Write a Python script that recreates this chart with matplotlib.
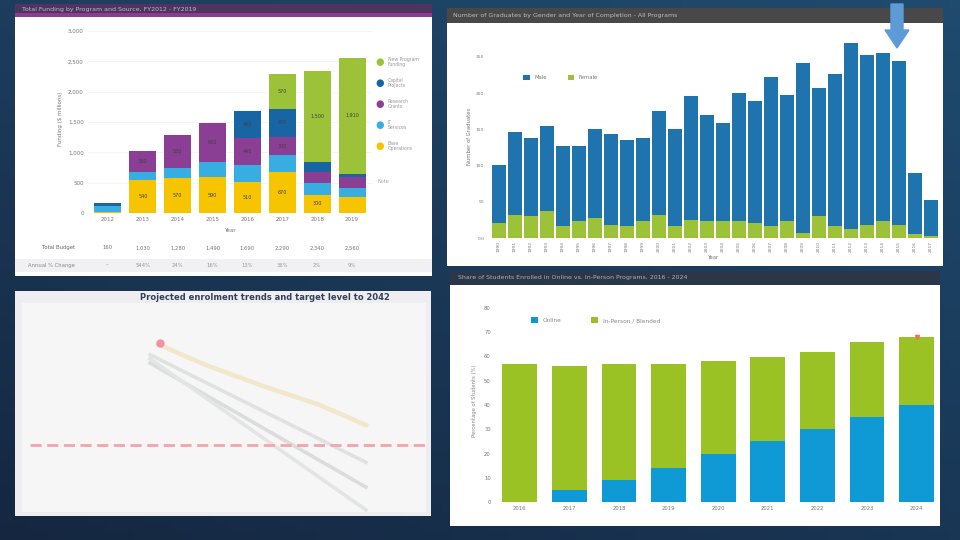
import numpy as np
import matplotlib
matplotlib.use("Agg")
import matplotlib.pyplot as plt
from matplotlib.patches import Rectangle, FancyArrow
from matplotlib import transforms

W, H = 960, 540

# ---- datos panel superior izquierdo (barras apiladas por programa) ----
tl_years = ["2012", "2013", "2014", "2015", "2016", "2017", "2018", "2019"]
tl_yellow = [20, 540, 570, 590, 510, 670, 300, 270]
tl_cyan = [100, 130, 180, 250, 280, 280, 190, 140]
tl_purple = [0, 360, 530, 650, 440, 300, 180, 180]
tl_blue = [40, 0, 0, 0, 460, 470, 170, 60]
tl_green = [0, 0, 0, 0, 0, 570, 1500, 1910]
tl_names = ["New Program\nFunding", "Capital\nProjects", "Research\nGrants", "IT\nServices", "Base\nOperations"]
tl_row1 = ["160", "1,030", "1,280", "1,490", "1,690", "2,290", "2,340", "2,560"]
tl_row2 = ["--", "544%", "24%", "16%", "13%", "36%", "2%", "9%"]

# ---- datos panel superior derecho ----
tr_years = [str(y) for y in range(1990, 2018)]
tr_blue = [80, 115, 108, 118, 111, 104, 122, 125, 120, 115, 143, 134, 171, 147,
           136, 177, 168, 207, 175, 235, 177, 210, 257, 235, 233, 226, 85, 50]
tr_green = [21, 32, 30, 37, 16, 23, 28, 18, 16, 23, 32, 16, 25, 23,
            23, 23, 21, 16, 23, 7, 30, 16, 12, 18, 23, 18, 5, 3]

# ---- datos panel inferior izquierdo (proyecciones) ----
bl_orange_x = [2016, 2022, 2029, 2036, 2042]
bl_orange_y = [81, 71, 61, 52, 42]
bl_gray_x = [2015, 2042]
bl_gray1 = [76, 24]
bl_gray2 = [72, 12]
bl_gray3 = [74, 1]
bl_target = 32.4
bl_point = (2016.3, 81.5)

# ---- datos panel inferior derecho ----
br_years = ["2016", "2017", "2018", "2019", "2020", "2021", "2022", "2023", "2024"]
br_blue = [0, 5, 9, 14, 20, 25, 30, 35, 40]
br_green = [57, 51, 48, 43, 38, 35, 32, 31, 28]

c_yellow, c_cyan, c_purple = "#f6c500", "#38ade2", "#8b3f94"
c_dblue, c_green = "#1766a3", "#9cc23a"


def box(x0, y0, x1, y1):
    return [x0 / W, 1 - y1 / H, (x1 - x0) / W, (y1 - y0) / H]


def panel(x0, y0, x1, y1, color, z=-5):
    fig.add_artist(Rectangle((x0 / W, 1 - y1 / H), (x1 - x0) / W, (y1 - y0) / H,
                             transform=fig.transFigure, facecolor=color,
                             edgecolor="none", zorder=z))


fig = plt.figure(figsize=(9.6, 5.4), dpi=100)

# fondo azul oscuro con degradado
bg = fig.add_axes([0, 0, 1, 1], zorder=-10)
yy, xx = np.mgrid[0:1:60j, 0:1:100j]
c_tl = np.array([0x1d, 0x3d, 0x5e]) / 255
c_tr = np.array([0x1f, 0x4b, 0x6e]) / 255
c_bl = np.array([0x15, 0x27, 0x40]) / 255
c_br = np.array([0x19, 0x36, 0x55]) / 255
grad = ((1 - xx)[..., None] * (1 - yy)[..., None] * c_tl + xx[..., None] * (1 - yy)[..., None] * c_tr
        + (1 - xx)[..., None] * yy[..., None] * c_bl + xx[..., None] * yy[..., None] * c_br)
bg.imshow(grad, extent=[0, 1, 0, 1], aspect="auto", origin="upper")
bg.axis("off")

# ================= panel superior izquierdo =================
panel(15, 17, 432, 276, "#ffffff", -5)
panel(15, 259, 432, 272, "#f1f1f3", -4.9)
panel(15, 4, 432, 17, "#4d3560", -4.8)
panel(15, 13, 432, 17, "#8c3b90", -4.7)
fig.text(22 / W, 1 - 10 / H, "Total Funding by Program and Source, FY2012 - FY2019",
         fontsize=4.5, color="#c0b8c8", va="center")

ax1 = fig.add_axes(box(88, 25, 372, 213))
ax1.set_facecolor("none")
x1 = np.arange(len(tl_years))
bottom = np.zeros(len(tl_years))
segs = [(tl_yellow, c_yellow), (tl_cyan, c_cyan), (tl_purple, c_purple),
        (tl_blue, c_dblue), (tl_green, c_green)]
for vals, col in segs:
    ax1.bar(x1, vals, 0.78, bottom=bottom, color=col, zorder=2)
    for i, v in enumerate(vals):
        if v >= 300:
            ax1.text(x1[i], bottom[i] + v / 2, "{:,}".format(v), ha="center", va="center",
                     fontsize=3.5, color="#404040", zorder=3)
    bottom = bottom + np.array(vals)
ax1.set_xlim(-0.57, 7.57)
ax1.set_ylim(0, 3100)
ax1.set_yticks(range(0, 3001, 500))
ax1.set_yticklabels(["{:,}".format(v) for v in range(0, 3001, 500)])
ax1.set_xticks(x1)
ax1.set_xticklabels(tl_years)
ax1.tick_params(labelsize=4, colors="#777777", length=0, pad=3)
ax1.grid(axis="y", color="#f0f0f0", lw=0.5, zorder=0)
for s in ax1.spines.values():
    s.set_visible(False)
ax1.set_ylabel("Funding ($ millions)", fontsize=4, color="#777777", labelpad=4)
ax1.set_xlabel("Year", fontsize=4, color="#777777", labelpad=4)
tr1 = transforms.blended_transform_factory(ax1.transData, ax1.transAxes)
for i in range(len(tl_years)):
    ax1.text(x1[i], -0.186, tl_row1[i], transform=tr1, ha="center", va="center", fontsize=3.8, color="#777777")
    ax1.text(x1[i], -0.277, tl_row2[i], transform=tr1, ha="center", va="center", fontsize=3.8, color="#999999")
ax1.text(-0.95, -0.186, "Total Budget", transform=tr1, ha="right", va="center", fontsize=3.8, color="#666666")
ax1.text(-0.95, -0.277, "Annual % Change", transform=tr1, ha="right", va="center", fontsize=3.8, color="#888888")

# leyenda
for k, (name, col) in enumerate(zip(tl_names, [c_green, c_dblue, c_purple, c_cyan, c_yellow])):
    ypx = 62 + k * 21
    fig.text(380 / W, 1 - ypx / H, "\u25cf", color=col, fontsize=7, va="center", ha="center")
    fig.text(388 / W, 1 - ypx / H, name, color="#999999", fontsize=3.3, va="center", linespacing=1.0)
fig.text(378 / W, 1 - 181 / H, "Note", color="#aaaaaa", fontsize=3.5, va="center")

# ================= panel superior derecho =================
panel(447, 23, 943, 266, "#ffffff", -5)
panel(447, 8, 943, 23, "#484848", -4.8)
fig.text(453 / W, 1 - 15 / H, "Number of Graduates by Gender and Year of Completion - All Programs",
         fontsize=4.5, color="#bdbdbd", va="center")

ax2 = fig.add_axes(box(487, 35, 940, 238))
ax2.set_facecolor("none")
x2 = np.arange(len(tr_years))
ax2.bar(x2, tr_green, 0.84, color=c_green, label="Female", zorder=2)
ax2.bar(x2, tr_blue, 0.84, bottom=tr_green, color="#2074ad", label="Male", zorder=2)
ax2.set_xlim(-0.75, 27.56)
ax2.set_ylim(0, 250 * 203 / 181)
ax2.set_yticks(range(0, 251, 50))
ax2.set_yticklabels(["0.0", "50", "100", "150", "200", "250"])
ax2.set_xticks(x2)
ax2.set_xticklabels(tr_years, rotation=90)
ax2.tick_params(labelsize=3.2, colors="#777777", length=0, pad=2)
for s in ax2.spines.values():
    s.set_visible(False)
ax2.set_ylabel("Number of Graduates", fontsize=3.8, color="#777777", labelpad=3)
ax2.set_xlabel("Year", fontsize=3.8, color="#777777", labelpad=2)
h, l = ax2.get_legend_handles_labels()
ax2.legend(h[::-1], l[::-1], loc="center left", bbox_to_anchor=(0.07, 0.79), ncol=2, frameon=False,
           fontsize=3.8, handlelength=1.2, handleheight=1.2, columnspacing=4, labelcolor="#777777")

fig.add_artist(FancyArrow(897 / W, 1 - 4 / H, 0, -26 / H, width=12 / W, head_width=24 / W,
                          head_length=18 / H, length_includes_head=False,
                          transform=fig.transFigure, color="#5c9ad8", zorder=5))

# ================= panel inferior izquierdo =================
panel(15, 291, 431, 516, "#eeeef0", -5)
panel(22, 303, 426, 512, "#f6f6f6", -4.9)
fig.text(265 / W, 1 - 297 / H, "Projected enrolment trends and target level to 2042",
         fontsize=6, fontweight="bold", color="#34405a", ha="center", va="center", zorder=3)

ax3 = fig.add_axes(box(30, 305, 430, 512))
ax3.set_facecolor("none")
ax3.plot(bl_gray_x, bl_gray1, color="#dfe2e1", lw=2.6)
ax3.plot(bl_gray_x, bl_gray2, color="#dadddc", lw=2.6)
ax3.plot(bl_gray_x, bl_gray3, color="#e3e5e4", lw=2.6)
ax3.plot(bl_orange_x, bl_orange_y, color="#f2e6cb", lw=3.2)
ax3.axhline(bl_target, color="#f3a5a8", lw=2, ls=(0, (4, 2)))
ax3.plot(*bl_point, "o", color="#f490a0", ms=5)
ax3.set_xlim(2000, 2050)
ax3.set_ylim(0, 100)
ax3.axis("off")

# ================= panel inferior derecho =================
panel(450, 285, 940, 526, "#ffffff", -5)
panel(450, 271, 940, 285, "#2b3748", -4.8)
fig.text(458 / W, 1 - 278 / H, "Share of Students Enrolled in Online vs. In-Person Programs, 2016 - 2024",
         fontsize=4.5, color="#a9b0b8", va="center")

ax4 = fig.add_axes(box(495, 300, 938, 502))
ax4.set_facecolor("none")
x4 = np.arange(len(br_years))
ax4.bar(x4, br_blue, 0.7, color="#0f9ad6", label="Online", zorder=2)
ax4.bar(x4, br_green, 0.7, bottom=br_blue, color="#9bc224", label="In-Person / Blended", zorder=2)
ax4.plot(x4[-1], br_blue[-1] + br_green[-1], marker="v", color="#f0735a", ms=3, zorder=3)
ax4.set_xlim(-0.5, 8.43)
ax4.set_ylim(0, 80 * 202 / 194)
ax4.set_yticks(range(0, 81, 10))
ax4.set_xticks(x4)
ax4.set_xticklabels(br_years)
ax4.tick_params(labelsize=3.8, colors="#777777", length=0, pad=3)
for s in ax4.spines.values():
    s.set_visible(False)
ax4.set_ylabel("Percentage of Students (%)", fontsize=3.8, color="#888888", labelpad=5)
ax4.legend(loc="center left", bbox_to_anchor=(0.07, 0.9), ncol=2, frameon=False, fontsize=4.2,
           handlelength=1.2, handleheight=1.2, columnspacing=5, labelcolor="#888888")

fig.savefig("out.png", dpi=100)
